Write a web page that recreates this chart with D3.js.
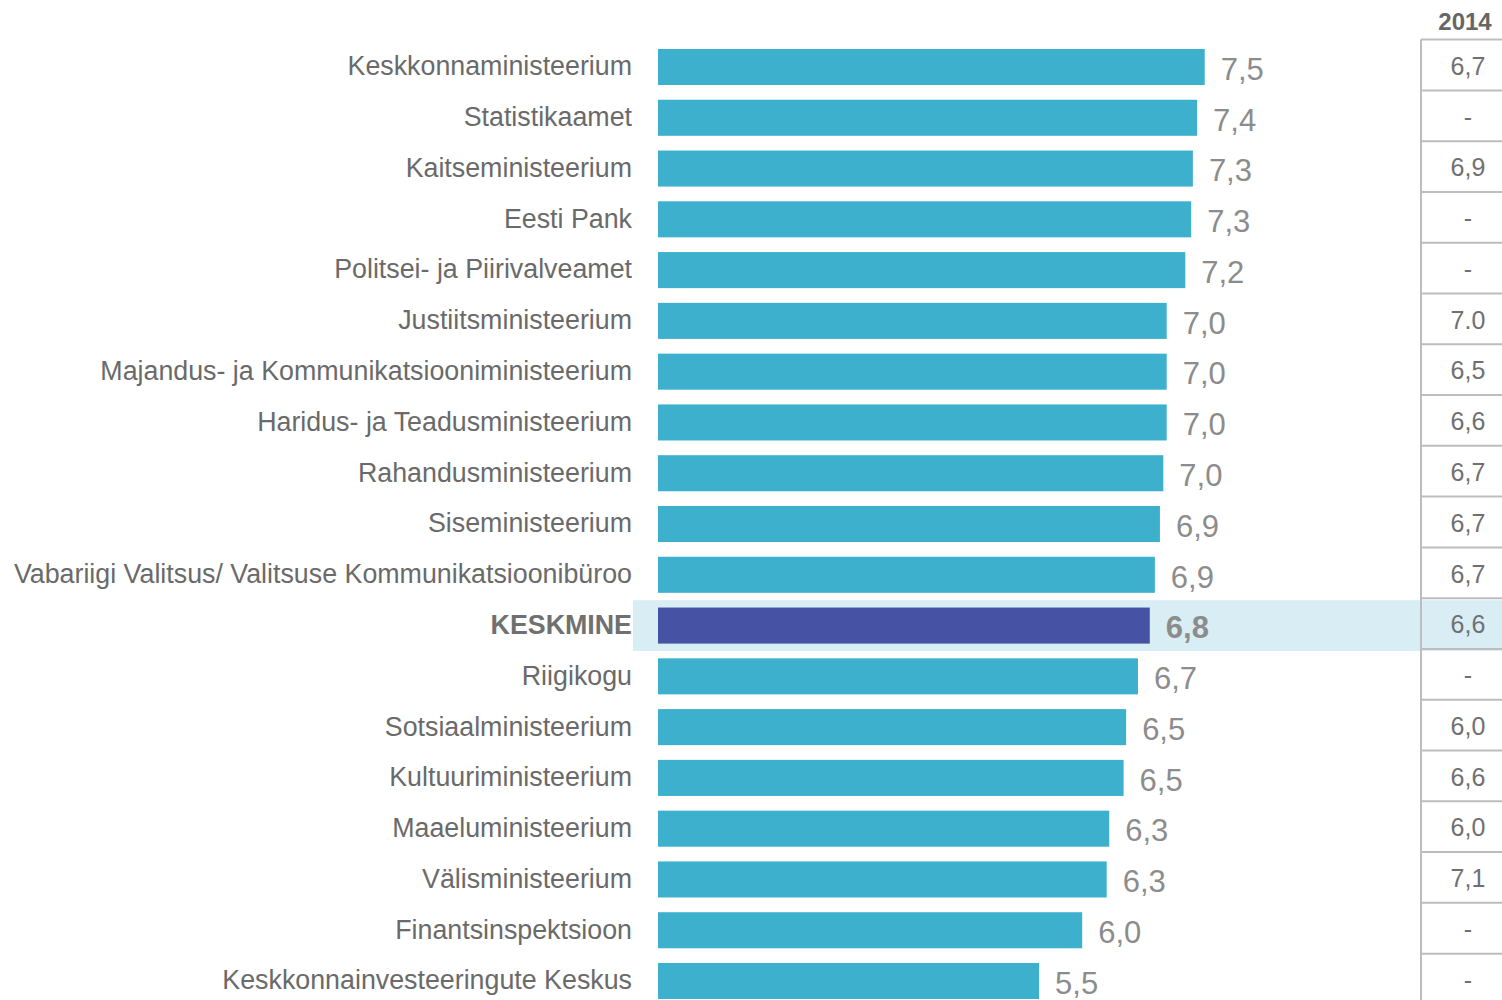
<!DOCTYPE html>
<html>
<head>
<meta charset="utf-8">
<script src="https://cdn.jsdelivr.net/npm/d3@7"></script>
<style>
  body { margin: 0; background: #fff; }
  svg { display: block; font-family: "Liberation Sans", Arial, sans-serif; }
</style>
</head>
<body>
<svg id="chart" width="1502" height="1000"></svg>
<script>
const width = 1502
const height = 1000

const names = [
  "Keskkonnaministeerium",
  "Statistikaamet",
  "Kaitseministeerium",
  "Eesti Pank",
  "Politsei- ja Piirivalveamet",
  "Justiitsministeerium",
  "Majandus- ja Kommunikatsiooniministeerium",
  "Haridus- ja Teadusministeerium",
  "Rahandusministeerium",
  "Siseministeerium",
  "Vabariigi Valitsus/ Valitsuse Kommunikatsioonibüroo",
  "KESKMINE",
  "Riigikogu",
  "Sotsiaalministeerium",
  "Kultuuriministeerium",
  "Maaeluministeerium",
  "Välisministeerium",
  "Finantsinspektsioon",
  "Keskkonnainvesteeringute Keskus"
]
const values2016 = [7.47, 7.38, 7.33, 7.31, 7.24, 7.02, 7.02, 7.02, 6.98, 6.94, 6.88, 6.82, 6.68, 6.54, 6.51, 6.34, 6.31, 6.02, 5.51]
const values2014 = ["6,7", "-", "6,9", "-", "-", "7.0", "6,5", "6,6", "6,7", "6,7", "6,7", "6,6", "-", "6,0", "6,6", "6,0", "7,1", "-", "-"]
const avgName = "KESKMINE"
const tableHeader = "2014"

const margin = { top: 41.6, left: 658 }
const fmt = v => d3.format(".1f")(v).replace(".", ",")

const svg = d3.select("#chart")

const x = d3.scaleLinear()
  .domain([1, 10])
  .range([margin.left, margin.left + 9 * 84.5])

const y = d3.scaleBand()
  .domain(names)
  .range([margin.top, margin.top + 19 * 50.78])
  .paddingInner(0.29)
  .paddingOuter(0.145)

const step = y.step()
const half = step * 0.29 / 2
const tableX0 = 1421
const tableX1 = 1502
const tableCx = 1468

// highlight band for average row
svg.append("rect")
  .attr("x", 633)
  .attr("y", y(avgName) - half)
  .attr("width", width - 633)
  .attr("height", step)
  .attr("fill", "#d8eef4")

// bars
svg.append("g")
  .selectAll("rect")
  .data(names)
  .join("rect")
  .attr("x", x(1))
  .attr("y", d => y(d))
  .attr("height", y.bandwidth())
  .attr("width", (d, i) => x(values2016[i]) - x(1))
  .attr("fill", d => d === avgName ? "#4652a3" : "#3db0cd")

// category labels
svg.append("g")
  .selectAll("text")
  .data(names)
  .join("text")
  .attr("x", 632)
  .attr("y", d => y(d) + y.bandwidth() / 2 - 1)
  .attr("dy", "0.35em")
  .attr("text-anchor", "end")
  .attr("font-size", 26.8)
  .attr("font-weight", d => d === avgName ? "bold" : "normal")
  .attr("fill", d => d === avgName ? "#707070" : "#6a6a6a")
  .text(d => d)

// value labels
svg.append("g")
  .selectAll("text")
  .data(names)
  .join("text")
  .attr("x", (d, i) => x(values2016[i]) + 16)
  .attr("y", d => y(d) + y.bandwidth() / 2 + 1)
  .attr("dy", "0.38em")
  .attr("font-size", 31)
  .attr("font-weight", d => d === avgName ? "bold" : "normal")
  .attr("fill", "#8c8c8c")
  .text((d, i) => fmt(values2016[i]))

// 2014 table
const table = svg.append("g")

table.append("text")
  .attr("x", 1465)
  .attr("y", 30)
  .attr("text-anchor", "middle")
  .attr("font-size", 24)
  .attr("font-weight", "bold")
  .attr("fill", "#666")
  .text(tableHeader)

table.append("line")
  .attr("x1", tableX0).attr("x2", tableX0)
  .attr("y1", y(names[0]) - half - 2)
  .attr("y2", height)
  .attr("stroke", "#bdbdbd")
  .attr("stroke-width", 2)

table.selectAll("line.row")
  .data(names)
  .join("line")
  .attr("class", "row")
  .attr("x1", tableX0).attr("x2", tableX1)
  .attr("y1", d => y(d) - half - 2)
  .attr("y2", d => y(d) - half - 2)
  .attr("stroke", "#bdbdbd")
  .attr("stroke-width", 2)

table.selectAll("text.val")
  .data(names)
  .join("text")
  .attr("class", "val")
  .attr("x", tableCx)
  .attr("y", d => y(d) + y.bandwidth() / 2 - 1)
  .attr("dy", "0.35em")
  .attr("text-anchor", "middle")
  .attr("font-size", 25)
  .attr("fill", "#707070")
  .text((d, i) => values2014[i])
</script>
</body>
</html>
